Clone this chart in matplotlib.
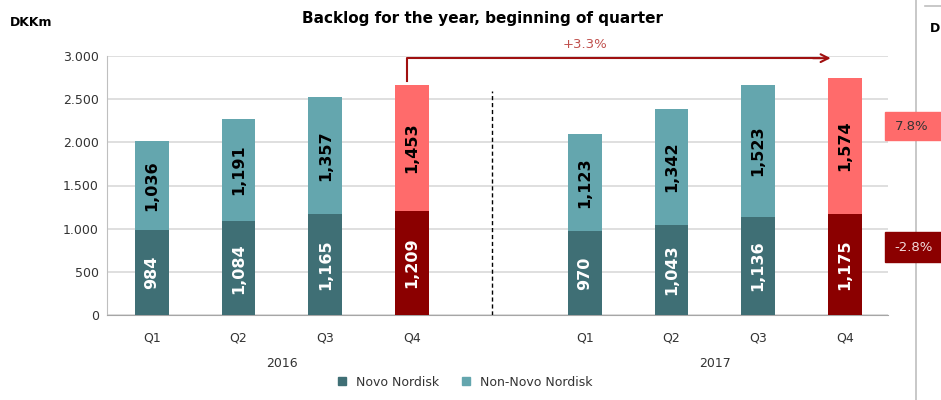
import matplotlib.pyplot as plt
from matplotlib.patches import Rectangle
from matplotlib.lines import Line2D

# data (DKKm)
quarters = ["Q1", "Q2", "Q3", "Q4", "Q1", "Q2", "Q3", "Q4"]
years = ["2016", "2017"]
novo = [984, 1084, 1165, 1209, 970, 1043, 1136, 1175]
non_novo = [1036, 1191, 1357, 1453, 1123, 1342, 1523, 1574]
yticks = [0, 500, 1000, 1500, 2000, 2500, 3000]
ytick_labels = ["0", "500", "1.000", "1.500", "2.000", "2.500", "3.000"]
growth_total = "+3.3%"
growth_non_novo = "7.8%"
growth_novo = "-2.8%"

DARK_TEAL = "#3f6f75"
LIGHT_TEAL = "#64a6ae"
DARK_RED = "#8b0000"
PINK = "#ff6b6b"

x = [0, 1, 2, 3, 5, 6, 7, 8]
is_q4 = [q == "Q4" for q in quarters]
c_low = [DARK_RED if h else DARK_TEAL for h in is_q4]
c_high = [PINK if h else LIGHT_TEAL for h in is_q4]

fig = plt.figure(figsize=(9.41, 4.0), dpi=100)
ax = fig.add_axes([0.1137, 0.2125, 0.83, 0.6475])

w = 0.39
ax.bar(x, novo, width=w, color=c_low, zorder=3)
ax.bar(x, non_novo, width=w, bottom=novo, color=c_high, zorder=3)

for xi, lo, hi in zip(x, novo, non_novo):
    ax.text(xi, lo / 2, f"{lo:,}", rotation=90, ha="center", va="center",
            color="white", fontsize=11.5, fontweight="bold", zorder=4)
    ax.text(xi, lo + hi / 2, f"{hi:,}", rotation=90, ha="center", va="center",
            color="black", fontsize=11.5, fontweight="bold", zorder=4)

ax.set_xlim(-0.52, 8.5)
ax.set_ylim(0, 3000)
ax.set_yticks(yticks)
ax.set_yticklabels(ytick_labels)
ax.set_xticks(x)
ax.set_xticklabels(quarters)
ax.tick_params(axis="both", length=0, labelsize=9, colors="#333333")
ax.tick_params(axis="x", pad=12)
ax.tick_params(axis="y", pad=6)
ax.grid(axis="y", color="#d9d9d9", linewidth=1.2, zorder=0)
for s in ["top", "right"]:
    ax.spines[s].set_visible(False)
ax.spines["left"].set_color("#bfbfbf")
ax.spines["bottom"].set_color("#a6a6a6")

# year labels under the quarters
ax.text(1.5, -560, years[0], ha="center", va="center", fontsize=9, color="#333333")
ax.text(6.5, -560, years[1], ha="center", va="center", fontsize=9, color="#333333")

# dashed separator
ax.plot([3.93, 3.93], [0, 2600], ls=(0, (3, 2)), color="black", lw=1, zorder=2)

# growth arrow
ax.plot([2.95, 2.95, 7.7], [2710, 2975, 2975], color="#a01010", lw=1.5,
        zorder=5, clip_on=False)
ax.annotate("", xy=(7.87, 2975), xytext=(7.6, 2975),
            arrowprops=dict(arrowstyle="->", color="#a01010", lw=1.5,
                            mutation_scale=14), annotation_clip=False)
ax.text(5.0, 3130, growth_total, ha="center", va="center", fontsize=9.5,
        color="#c0504d")

fig.text(0.513, 0.955, "Backlog for the year, beginning of quarter", ha="center",
         va="center", fontsize=11, fontweight="bold")
fig.text(0.011, 0.945, "DKKm", ha="left", va="center", fontsize=9,
         fontweight="bold")

# legend
handles = [Line2D([], [], marker="s", ls="", color=DARK_TEAL, markersize=6),
           Line2D([], [], marker="s", ls="", color=LIGHT_TEAL, markersize=6)]
fig.legend(handles, ["Novo Nordisk", "Non-Novo Nordisk"], loc="center",
           bbox_to_anchor=(0.49, 0.045), ncol=2, frameon=False, fontsize=9,
           handletextpad=0.1, columnspacing=1.2, labelcolor="#333333")

# right-hand panel edge
fig.add_artist(Line2D([916 / 941, 916 / 941], [0, 1], color="#bfbfbf", lw=1.2))
fig.add_artist(Line2D([925 / 941, 1], [0.985, 0.985], color="#bfbfbf", lw=1.2))
fig.text(930 / 941, 0.93, "D", ha="left", va="center", fontsize=9,
         fontweight="bold")

# growth boxes
fig.add_artist(Rectangle((885 / 941, 1 - 140 / 400), 60 / 941, 28 / 400,
                         transform=fig.transFigure, color=PINK, zorder=6))
fig.text(912 / 941, 1 - 126 / 400, growth_non_novo, ha="center", va="center",
         fontsize=9.5, color="#333333", zorder=7)
fig.add_artist(Rectangle((885 / 941, 1 - 262 / 400), 60 / 941, 30 / 400,
                         transform=fig.transFigure, color=DARK_RED, zorder=6))
fig.text(914 / 941, 1 - 247 / 400, growth_novo, ha="center", va="center",
         fontsize=9.5, color="#f2dcdc", zorder=7)

fig.savefig("out.png", dpi=100)
